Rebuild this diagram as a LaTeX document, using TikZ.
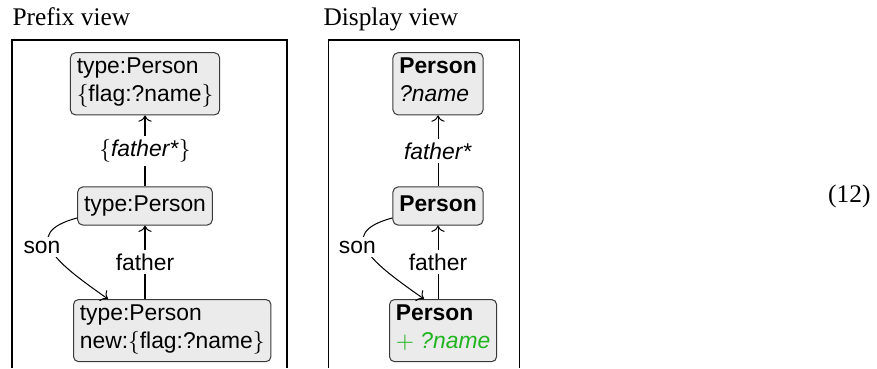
\documentclass[tikz,border=0pt]{standalone}
\usepackage{fontspec}
\setmainfont{Liberation Serif}
\setsansfont{Liberation Sans}
\usetikzlibrary{arrows.meta,positioning}
\definecolor{nodefill}{HTML}{EBEBEB}
\definecolor{nodeedge}{HTML}{3A3A3A}
\definecolor{added}{HTML}{1FB51F}
\tikzset{
  >=To,
  every node/.style={font=\small\sffamily},
  pbox/.style={draw=nodeedge,fill=nodefill,rounded corners=2pt,align=left,inner xsep=2.5pt,inner ysep=2pt,
    execute at begin node=\strut,execute at end node=\strut},
  viewtitle/.style={font=\rmfamily,inner sep=0pt,anchor=base west},
  lbl/.style={fill=white,inner sep=1.5pt},
  viewframe/.style={draw=black,line width=0.4pt},
}

\begin{document}
\begin{tikzpicture}[x=0.394pt,y=-0.394pt]
\useasboundingbox (0,0) rectangle (877,368);

% prefix view
\node[viewtitle] (ptitle) at (12,25) {Prefix view};
\draw[viewframe] (12,368) |- (287,40) -- (287,368);
\node[pbox] (pmid) at (145,206) {type:Person};
\node[pbox,above=28pt of pmid] (ptop) {type:Person\\$\{$flag:?name$\}$};
\node[pbox,anchor=north west] (pbot) at (73,299) {type:Person\\new:$\{$flag:?name$\}$};

\draw[->] (pmid) -- node[lbl]{$\{$\textit{father*}$\}$} (ptop);
\draw[->] (pbot.north -| pmid) -- node[lbl]{father} (pmid.south);
\draw[->] ([yshift=-4.7pt]pmid.west) to[out=195,in=145,looseness=1.8]
  node[lbl,pos=0.45,xshift=-3pt]{son} ([xshift=13.8pt]pbot.north west);

% display view
\node[viewtitle] (dtitle) at (323,25) {Display view};
\draw[viewframe] (328,368) |- (519,40) -- (519,368);
\node[pbox] (dmid) at (438,206) {\textbf{Person}};
\node[pbox,above=28pt of dmid] (dtop) {\textbf{Person}\\\textit{?name}};
\node[pbox,anchor=north west] (dbot) at (389,299) {\textbf{Person}\\\textcolor{added}{$+$ \textit{?name}}};

\draw[->] (dmid) -- node[lbl]{\textit{father*}} (dtop);
\draw[->] (dbot.north -| dmid) -- node[lbl]{father} (dmid.south);
\draw[->] ([yshift=-4.7pt]dmid.west) to[out=195,in=145,looseness=1.8]
  node[lbl,pos=0.45,xshift=-3pt]{son} ([xshift=13.8pt]dbot.north west);

% equation number
\node[font=\rmfamily,inner sep=0pt,anchor=east] (eqno) at (871,196) {(12)};
\end{tikzpicture}
\end{document}
